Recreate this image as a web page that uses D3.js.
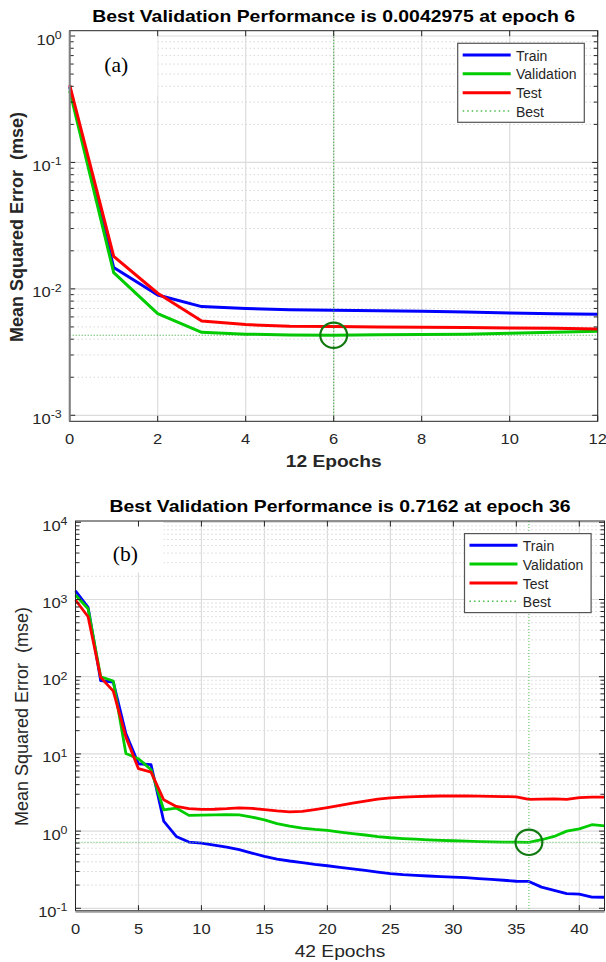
<!DOCTYPE html>
<html><head><meta charset="utf-8">
<script src="https://cdn.jsdelivr.net/npm/d3@7"></script>
<style>html,body{margin:0;padding:0;background:#fff;}svg{display:block;}</style>
</head><body>
<svg id="c" width="606" height="962"></svg>
<script>
// ---------- data (a) ----------
const epochsA = [0,1,2,3,4,5,6,7,8,9,10,11,12];
const trainA  = [0.395,0.01475,0.00895,0.00724,0.00698,0.00684,0.00677,0.00671,0.00665,0.00655,0.00645,0.00637,0.00629];
const valA    = [0.369,0.01345,0.00637,0.00453,0.00438,0.00432,0.0042975,0.00433,0.00435,0.00438,0.00445,0.00453,0.00462];
const testA   = [0.409,0.0181,0.00923,0.00557,0.00522,0.00506,0.00503,0.00500,0.00498,0.00495,0.00491,0.00487,0.00482];
const bestEpochA = 6, bestValA = 0.0042975;
const xTicksA = [0,2,4,6,8,10,12];
const yExpA = [-3,-2,-1,0];
const titleA = "Best Validation Performance is 0.0042975 at epoch 6";
const xLabelA = "12 Epochs";

// ---------- data (b) ----------
const epochsB = [0,1,2,3,4,5,6,7,8,9,10,11,12,13,14,15,16,17,18,19,20,21,22,23,24,25,26,27,28,29,30,31,32,33,34,35,36,37,38,39,40,41,42];
const trainB = [1290,793,88.7,85,18.4,7.46,7.25,1.35,0.853,0.721,
  0.70,0.66,0.62,0.575,0.52,0.47,0.435,0.41,0.39,0.37,
  0.356,0.34,0.325,0.31,0.295,0.282,0.273,0.267,0.262,0.258,
  0.253,0.249,0.243,0.237,0.231,0.224,0.223,0.188,0.171,0.155,
  0.153,0.14,0.139];
const valB = [1143,760,100,88,10.1,8.67,6.24,1.89,1.99,1.60,
  1.61,1.62,1.63,1.62,1.52,1.40,1.25,1.16,1.09,1.05,
  1.02,0.97,0.93,0.89,0.85,0.82,0.80,0.785,0.77,0.76,
  0.75,0.74,0.73,0.725,0.72,0.72,0.7162,0.773,0.853,1.0,
  1.07,1.21,1.17];
const testB = [985,598,98,65,16.5,6.43,5.81,2.55,2.09,1.95,
  1.91,1.92,1.95,2.0,1.97,1.9,1.83,1.78,1.80,1.90,
  2.02,2.15,2.3,2.45,2.6,2.7,2.75,2.8,2.83,2.85,
  2.85,2.85,2.84,2.82,2.8,2.78,2.57,2.60,2.62,2.57,
  2.71,2.76,2.76];
const bestEpochB = 36, bestValB = 0.7162;
const xTicksB = [0,5,10,15,20,25,30,35,40];
const yExpB = [-1,0,1,2,3,4];
const titleB = "Best Validation Performance is 0.7162 at epoch 36";
const xLabelB = "42 Epochs";

const legendNames = ["Train","Validation","Test","Best"];
const seriesColors = ["#0000ff","#00cc00","#ff0000"];

// ---------- drawing ----------
const svg = d3.select("#c");
const FONT = "'Liberation Sans', Arial, sans-serif";
const TXT = "#262626";

function htext(g, x, y, str, o) {
  return g.append("text")
    .attr("transform", `translate(${x},${y}) scale(${o.sx || 1},1)`)
    .attr("text-anchor", o.anchor || "middle")
    .attr("font-family", o.family || FONT)
    .attr("font-size", o.size)
    .attr("font-weight", o.weight || "normal")
    .attr("fill", o.fill || TXT)
    .text(str);
}

function panel(c) {
  const g = svg.append("g");
  const x = d3.scaleLinear().domain(c.xDomain).range([c.L, c.R]);
  const y = d3.scaleLog().domain(c.yDomain).range([c.B, c.T]);

  g.append("rect").attr("x", c.L).attr("y", c.T).attr("width", c.R - c.L).attr("height", c.B - c.T).attr("fill", "#fff");

  const minors = [];
  c.yExp.forEach(e => { for (let m = 2; m <= 9; m++) { const v = m * Math.pow(10, e); if (v < c.yDomain[1] && v > c.yDomain[0]) minors.push(v); } });
  const majors = c.yExp.map(e => Math.pow(10, e));

  const grid = g.append("g");
  grid.selectAll(".mn").data(minors).enter().append("line")
    .attr("x1", c.L).attr("x2", c.R).attr("y1", d => y(d)).attr("y2", d => y(d))
    .attr("stroke", "#c4c4c4").attr("stroke-width", 1).attr("stroke-dasharray", "1,3");
  grid.selectAll(".mjh").data(majors).enter().append("line")
    .attr("x1", c.L).attr("x2", c.R).attr("y1", d => y(d)).attr("y2", d => y(d))
    .attr("stroke", "#dcdcdc").attr("stroke-width", 1.2);
  grid.selectAll(".mjv").data(c.xTicks).enter().append("line")
    .attr("x1", d => x(d)).attr("x2", d => x(d)).attr("y1", c.T).attr("y2", c.B)
    .attr("stroke", "#dcdcdc").attr("stroke-width", 1.2);

  g.append("rect").attr("x", c.L + 0.5).attr("y", c.T + 0.5)
    .attr("width", c.boxR - c.L).attr("height", c.boxB - c.T).attr("fill", "#fff");
  htext(g, c.letterX, c.letterY, c.letter, { size: 20, family: "'Liberation Serif','Times New Roman',serif", anchor: "start", fill: "#000", sx: 1.08 });

  const series = [c.train, c.val, c.test];
  const line = d3.line().x((d, i) => x(c.epochs[i])).y(d => y(d));
  series.forEach((s, k) => {
    g.append("path").datum(s).attr("d", line).attr("fill", "none")
      .attr("stroke", seriesColors[k]).attr("stroke-width", c.lw).attr("stroke-linejoin", "round");
  });

  g.append("line").attr("x1", x(c.bestEpoch)).attr("x2", x(c.bestEpoch)).attr("y1", c.T).attr("y2", c.B)
    .attr("stroke", c.bestColor).attr("stroke-width", 1.2).attr("stroke-dasharray", "1,2");
  g.append("line").attr("x1", c.L).attr("x2", c.R).attr("y1", y(c.bestVal)).attr("y2", y(c.bestVal))
    .attr("stroke", c.bestColor).attr("stroke-width", 1.2).attr("stroke-dasharray", "1,2");
  g.append("ellipse").attr("cx", x(c.bestEpoch)).attr("cy", y(c.bestVal)).attr("rx", 13.4).attr("ry", 12.7)
    .attr("fill", "none").attr("stroke", "#107a10").attr("stroke-width", 2.2);

  const ax = g.append("g").attr("stroke", "#262626").attr("stroke-width", 1).attr("fill", "none");
  ax.append("rect").attr("x", c.L).attr("y", c.T).attr("width", c.R - c.L).attr("height", c.B - c.T);
  if (c.leftGray) g.append("line").attr("x1", c.L).attr("x2", c.L).attr("y1", c.T).attr("y2", c.B).attr("stroke", "#808080").attr("stroke-width", 2);
  if (c.bottomGray) g.append("line").attr("x1", c.L).attr("x2", c.R).attr("y1", c.B + 1).attr("y2", c.B + 1).attr("stroke", "#9a9a9a").attr("stroke-width", 2);

  c.xTicks.forEach(t => {
    ax.append("line").attr("x1", x(t)).attr("x2", x(t)).attr("y1", c.B).attr("y2", c.B - 5.5);
    ax.append("line").attr("x1", x(t)).attr("x2", x(t)).attr("y1", c.T).attr("y2", c.T + 5.5);
    htext(g, x(t), c.xTickY, String(t), { size: 14, sx: 1.18 });
  });
  majors.forEach(v => {
    ax.append("line").attr("x1", c.L).attr("x2", c.L + 5.5).attr("y1", y(v)).attr("y2", y(v));
    ax.append("line").attr("x1", c.R).attr("x2", c.R - 5.5).attr("y1", y(v)).attr("y2", y(v));
  });
  minors.forEach(v => {
    ax.append("line").attr("x1", c.L).attr("x2", c.L + 4).attr("y1", y(v)).attr("y2", y(v));
    ax.append("line").attr("x1", c.R).attr("x2", c.R - 4).attr("y1", y(v)).attr("y2", y(v));
  });
  c.yExp.forEach(e => {
    const t = g.append("text")
      .attr("transform", `translate(${c.L - 8},${y(Math.pow(10, e)) + 8.5}) scale(1.18,1)`)
      .attr("text-anchor", "end").attr("font-family", FONT).attr("fill", TXT).attr("font-size", 14);
    t.append("tspan").text("10");
    t.append("tspan").attr("dy", -5.5).attr("font-size", 10.5).text(String(e));
  });

  htext(g, (c.L + c.R) / 2, c.titleY, c.title, { size: 16.3, weight: "bold", sx: 1.19, fill: "#000" });
  htext(g, (c.L + c.R) / 2, c.xLabelY, c.xLabel, { size: 16, weight: c.labelWeight, sx: 1.2 });
  g.append("text").attr("transform", `translate(${c.yLabelX},${c.yLabelY}) rotate(-90)`)
    .attr("text-anchor", "middle").attr("font-family", FONT).attr("font-size", 18)
    .attr("font-weight", c.labelWeight).attr("fill", TXT)
    .attr("xml:space", "preserve").style("white-space", "pre")
    .text("Mean Squared Error  (mse)");

  const lw = 126.6, lh = 79;
  const lx = c.R - 13.4 - lw, ly = c.T + 12.6;
  const lg = g.append("g");
  lg.append("rect").attr("x", lx).attr("y", ly).attr("width", lw).attr("height", lh)
    .attr("fill", "#fff").attr("stroke", "#555").attr("stroke-width", 1.2);
  const rows = [11.7, 30.4, 49.4, 67.7];
  legendNames.forEach((n, i) => {
    const yy = ly + rows[i];
    const ln = lg.append("line").attr("x1", lx + 5).attr("x2", lx + 53).attr("y1", yy).attr("y2", yy);
    if (i < 3) ln.attr("stroke", seriesColors[i]).attr("stroke-width", 3);
    else ln.attr("stroke", "#4fbf4f").attr("stroke-width", 1.5).attr("stroke-dasharray", "1.5,3");
    lg.append("text").attr("x", lx + 58.3).attr("y", yy + 5.5).attr("font-family", FONT)
      .attr("font-size", 14).attr("fill", TXT).text(n);
  });
}

panel({
  L: 69.7, R: 597.7, T: 30.7, B: 421.3,
  xDomain: [0, 12], yDomain: [Math.pow(10, -3.0475), Math.pow(10, 0.042)],
  xTicks: xTicksA, yExp: yExpA, epochs: epochsA, train: trainA, val: valA, test: testA,
  bestEpoch: bestEpochA, bestVal: bestValA, bestColor: "#2f9f2f", lw: 3,
  boxR: 157, boxB: 95, letter: "(a)", letterX: 104.3, letterY: 71.5,
  title: titleA, titleY: 21.5, xLabel: xLabelA, xLabelY: 467, xTickY: 443.5,
  yLabelX: 23.3, yLabelY: 227, labelWeight: "bold", leftGray: true, bottomGray: false
});

panel({
  L: 75.5, R: 604.5, T: 521, B: 910.7,
  xDomain: [0, 42], yDomain: [Math.pow(10, -1.031), Math.pow(10, 4.017)],
  xTicks: xTicksB, yExp: yExpB, epochs: epochsB, train: trainB, val: valB, test: testB,
  bestEpoch: bestEpochB, bestVal: bestValB, bestColor: "#6cc86c", lw: 2.8,
  boxR: 163, boxB: 572, letter: "(b)", letterX: 112.7, letterY: 560.7,
  title: titleB, titleY: 512, xLabel: xLabelB, xLabelY: 957, xTickY: 933.5,
  yLabelX: 27.5, yLabelY: 716.5, labelWeight: "normal", leftGray: false, bottomGray: true
});
</script>
</body></html>
